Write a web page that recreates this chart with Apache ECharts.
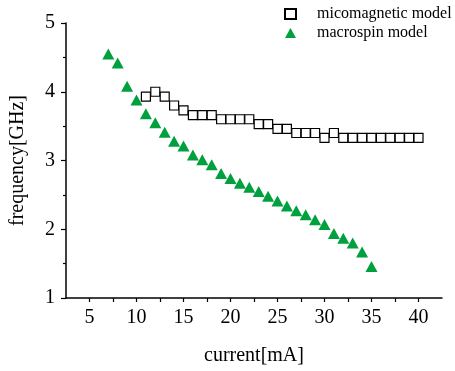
<!DOCTYPE html>
<html>
<head>
<meta charset="utf-8">
<script src="https://cdn.jsdelivr.net/npm/echarts@6/dist/echarts.min.js"></script>
<style>
  html, body { margin: 0; padding: 0; background: #fff; }
  #chart { width: 455px; height: 371px; }
</style>
</head>
<body>
<div id="chart"></div>
<script>
// current [mA] vs frequency [GHz]
const micoCurrent = [11, 12, 13, 14, 15, 16, 17, 18, 19, 20, 21, 22, 23, 24, 25,
  26, 27, 28, 29, 30, 31, 32, 33, 34, 35, 36, 37, 38, 39, 40];
const micoFreq = [3.93, 4.0, 3.93, 3.8, 3.73, 3.66, 3.66, 3.66, 3.6, 3.6, 3.6, 3.6, 3.53, 3.53, 3.46,
  3.46, 3.4, 3.4, 3.4, 3.33, 3.4, 3.33, 3.33, 3.33, 3.33, 3.33, 3.33, 3.33, 3.33, 3.33];
const macroCurrent = [7, 8, 9, 10, 11, 12, 13, 14, 15, 16, 17, 18, 19, 20, 21,
  22, 23, 24, 25, 26, 27, 28, 29, 30, 31, 32, 33, 34, 35];
const macroFreq = [4.55, 4.42, 4.08, 3.88, 3.68, 3.55, 3.41, 3.28, 3.21, 3.08, 3.01, 2.94, 2.81, 2.74, 2.67,
  2.61, 2.55, 2.48, 2.41, 2.34, 2.27, 2.21, 2.14, 2.07, 1.94, 1.87, 1.80, 1.67, 1.46];
const xLabelStep = 5; // labelled ticks every 5 mA, plain ticks every 2.5

const pairs = (xs, ys) => xs.map((x, i) => [x, ys[i]]);
const font = 'Liberation Serif';

const myChart = echarts.init(document.getElementById('chart'));
myChart.setOption({
  animation: false,
  textStyle: { fontFamily: font, color: '#000' },
  legend: {
    orient: 'vertical',
    left: 279,
    top: 1,
    itemWidth: 11,
    itemHeight: 10,
    itemGap: 3,
    textStyle: { fontFamily: font, fontSize: 16, color: '#000', padding: [0, 0, 0, 16] },
    data: ['micomagnetic model', 'macrospin model'],
  },
  grid: { left: 64, right: 13, top: 23, bottom: 73 },
  xAxis: {
    type: 'value',
    min: 2.5,
    max: 42.5,
    interval: 2.5,
    name: 'current[mA]',
    nameLocation: 'middle',
    nameGap: 48,
    nameTextStyle: { fontFamily: font, fontSize: 20, color: '#000' },
    axisLine: { show: true, onZero: false, lineStyle: { color: '#000', width: 1.5 } },
    axisTick: { show: true, inside: false, length: 4, lineStyle: { color: '#000', width: 1.2 } },
    axisLabel: {
      fontFamily: font, fontSize: 20, color: '#000', margin: 10,
      showMinLabel: false, showMaxLabel: false,
      formatter: (v) => (v % xLabelStep === 0 ? String(v) : ''),
    },
    splitLine: { show: false },
  },
  yAxis: {
    type: 'value',
    min: 1,
    max: 5,
    interval: 1,
    name: 'frequency[GHz]',
    nameLocation: 'middle',
    nameGap: 38,
    nameTextStyle: { fontFamily: font, fontSize: 20, color: '#000' },
    axisLine: { show: true, onZero: false, lineStyle: { color: '#000', width: 1.5 } },
    axisTick: { show: true, length: 5, lineStyle: { color: '#000', width: 1.2 } },
    minorTick: { show: true, splitNumber: 2, length: 3, lineStyle: { color: '#000', width: 1.2 } },
    axisLabel: { fontFamily: font, fontSize: 20, color: '#000', margin: 11 },
    splitLine: { show: false },
  },
  series: [
    {
      name: 'micomagnetic model',
      type: 'scatter',
      symbol: 'rect',
      symbolSize: 9,
      itemStyle: { color: '#fff', borderColor: '#000', borderWidth: 1.2, opacity: 1 },
      data: pairs(micoCurrent, micoFreq),
    },
    {
      name: 'macrospin model',
      type: 'scatter',
      symbol: 'triangle',
      symbolSize: [12, 11],
      itemStyle: { color: '#00a03e', opacity: 1 },
      data: pairs(macroCurrent, macroFreq),
    },
  ],
});
</script>
</body>
</html>
